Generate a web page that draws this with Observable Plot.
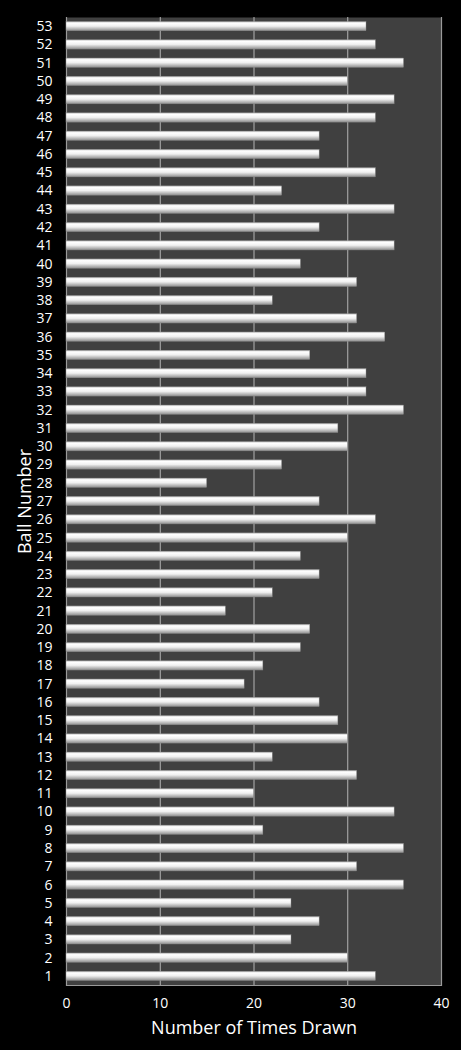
<!DOCTYPE html>
<html>
<head>
<meta charset="utf-8">
<script src="https://cdn.jsdelivr.net/npm/d3@7"></script>
<script src="https://cdn.jsdelivr.net/npm/@observablehq/plot@0.6"></script>
<style>
  html, body { margin: 0; padding: 0; background: #000; }
  #chart svg { display: block; }
</style>
</head>
<body>
<div id="chart"></div>
<script>
// ball numbers 1..53 and how many times each was drawn
const balls = d3.range(1, 54);
const timesDrawn = [
  33, 30, 24, 27, 24, 36, 31, 36, 21, 35,
  20, 31, 22, 30, 29, 27, 19, 21, 25, 26,
  17, 22, 27, 25, 30, 33, 27, 15, 23, 30,
  29, 36, 32, 32, 26, 34, 31, 22, 31, 25,
  35, 27, 35, 23, 33, 27, 27, 33, 35, 30,
  36, 33, 32
];
const xTicks = [0, 10, 20, 30, 40];
const gridValues = [10, 20, 30];

const rows = balls.map((b, i) => ({ball: b, count: timesDrawn[i]}));

const chart = Plot.plot({
  width: 461,
  height: 1050,
  marginLeft: 66,
  marginRight: 20,
  marginTop: 17,
  marginBottom: 65,
  style: {
    background: "#000",
    color: "#fff",
    fontFamily: "'Open Sans', sans-serif",
    fontSize: "14px"
  },
  x: {domain: [0, 40], ticks: xTicks},
  y: {domain: balls.slice().reverse(), paddingInner: 0.49, paddingOuter: 0.245, round: false},
  marks: [
    Plot.frame({fill: "#404040", stroke: null}),
    Plot.ruleX(gridValues, {stroke: "#b4b4b4", strokeWidth: 1}),
    Plot.ruleX([0, 40], {stroke: "#9a9a9a", strokeWidth: 1.2}),
    Plot.frame({anchor: "bottom", stroke: "#9a9a9a", strokeWidth: 1.2}),
    Plot.barX(rows, {y: "ball", x: "count", fill: "url(#barGrad)", stroke: "#8a8a8a", strokeWidth: 0.4}),
    Plot.axisX(xTicks, {tickSize: 0, tickPadding: 13, label: null, fontSize: 14}),
    Plot.axisY({tickSize: 0, tickPadding: 14, label: null, fontSize: 14}),
    Plot.text(["Number of Times Drawn"], {frameAnchor: "bottom", lineAnchor: "middle", dy: 43, fontSize: 18, fill: "#fff"}),
    Plot.text(["Ball Number"], {frameAnchor: "left", textAnchor: "middle", dx: -41, rotate: -90, fontSize: 18, fill: "#fff"})
  ]
});

// cylinder-like shading for the bars
const grad = d3.select(chart).insert("defs", ":first-child")
  .append("linearGradient")
  .attr("id", "barGrad")
  .attr("x1", 0).attr("y1", 0).attr("x2", 0).attr("y2", 1);
grad.append("stop").attr("offset", "0%").attr("stop-color", "#c8c8c8");
grad.append("stop").attr("offset", "18%").attr("stop-color", "#ffffff");
grad.append("stop").attr("offset", "50%").attr("stop-color", "#f0f0f0");
grad.append("stop").attr("offset", "100%").attr("stop-color", "#8e8e8e");

document.getElementById("chart").append(chart);
</script>
</body>
</html>
